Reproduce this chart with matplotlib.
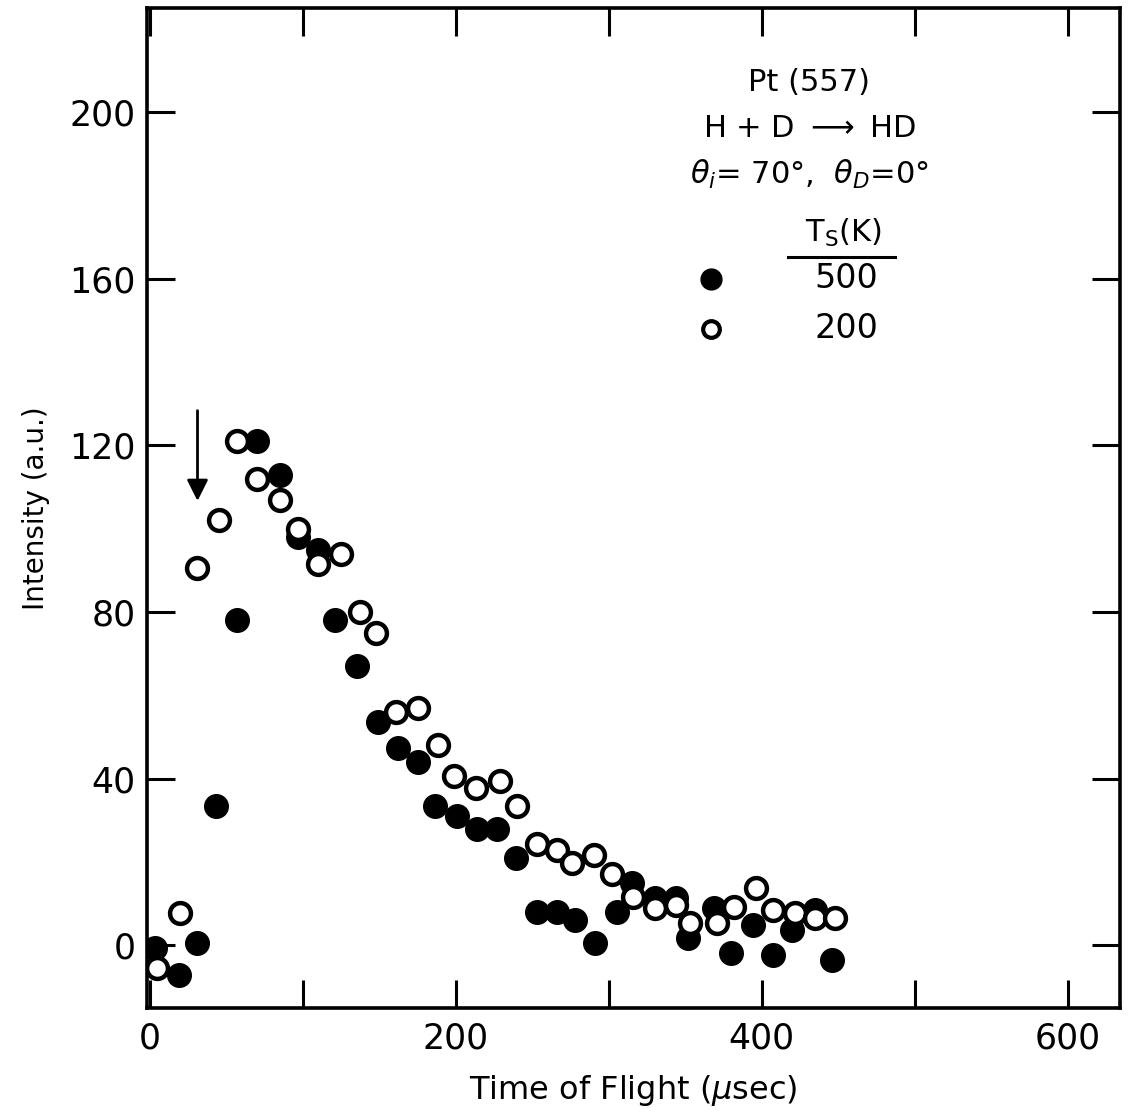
import numpy as np
import matplotlib
matplotlib.use("Agg")
import matplotlib.pyplot as plt

# Ts = 500 K (filled)
t_500 = [3, 19, 31, 43, 57, 70, 85, 97, 110, 121, 135, 149, 162, 175, 186, 201, 214, 227,
         239, 253, 266, 278, 291, 305, 315, 330, 344, 352, 369, 380, 394, 407, 420, 435, 446]
i_500 = [-0.5, -7, 0.7, 33.5, 78, 121, 113, 98, 95, 78, 67, 53.7, 47.5, 44, 33.5, 31, 28, 28,
         21, 8, 8, 6, 0.7, 8, 15, 11.3, 11.5, 1.9, 8.9, -1.7, 4.8, -2.4, 3.6, 8.4, -3.6]

# Ts = 200 K (open)
t_200 = [4.6, 19.6, 31, 45, 57, 70, 85, 97, 110, 125, 137, 148, 161, 175, 188, 199, 213, 229,
         240, 253, 266, 276, 290, 302, 316, 330, 344, 353, 371, 382, 396, 407, 422, 435, 448]
i_200 = [-5.5, 7.7, 90.5, 102, 121, 112, 107, 100, 91.5, 94, 80, 75, 56, 57, 48, 40.7, 37.8, 39.5,
         33.5, 24.4, 23, 19.9, 21.8, 17.2, 11.7, 9.1, 9.6, 5.5, 5.5, 9.3, 13.7, 8.6, 7.9, 6.7, 6.7]

fig = plt.figure(figsize=(11.31, 11.15), dpi=100)
ax = fig.add_axes([0.130, 0.096, 0.860, 0.897])

ax.plot(t_500, i_500, 'o', color='black', ms=17, zorder=3)
ax.plot(t_200, i_200, 'o', mfc='white', mec='black', ms=15, mew=3.2, zorder=4)

ax.set_xlim(-2, 634)
ax.set_ylim(-15, 225)

ax.set_xticks([0, 200, 400, 600])
ax.set_xticks([100, 300, 500], minor=True)
ax.set_yticks([0, 40, 80, 120, 160, 200])
ax.tick_params(which='both', direction='in', length=20, width=2.2,
               top=True, right=True, labelsize=25)
ax.tick_params(axis='x', pad=10)
ax.tick_params(axis='y', pad=8)
for s in ax.spines.values():
    s.set_linewidth(2.6)

ax.set_xlabel('Time of Flight ($\\mu$sec)', fontsize=23, labelpad=12)
ax.set_ylabel('Intensity (a.u.)', fontsize=20, labelpad=14)

# arrow marking the onset
ax.annotate('', xy=(31, 106), xytext=(31, 129),
            arrowprops=dict(arrowstyle='-|>', color='black', lw=2.0, mutation_scale=32))

# key text
ax.text(431, 207, 'Pt (557)', ha='center', va='center', fontsize=22)
ax.text(431, 196, 'H + D $\\longrightarrow$ HD', ha='center', va='center', fontsize=22)
ax.text(431, 185, '$\\theta_i$= 70°,  $\\theta_D$=0°', ha='center', va='center', fontsize=22)
ax.text(453, 171, 'T$_\\mathrm{S}$(K)', ha='center', va='center', fontsize=22)
ax.plot([417, 487], [165.3, 165.3], color='black', lw=2.2)
ax.plot([367], [160], 'o', color='black', ms=15)
ax.plot([367], [148], 'o', mfc='white', mec='black', ms=12, mew=3)
ax.text(455, 160, '500', ha='center', va='center', fontsize=24)
ax.text(455, 148, '200', ha='center', va='center', fontsize=24)

fig.savefig('out.png', dpi=100)
